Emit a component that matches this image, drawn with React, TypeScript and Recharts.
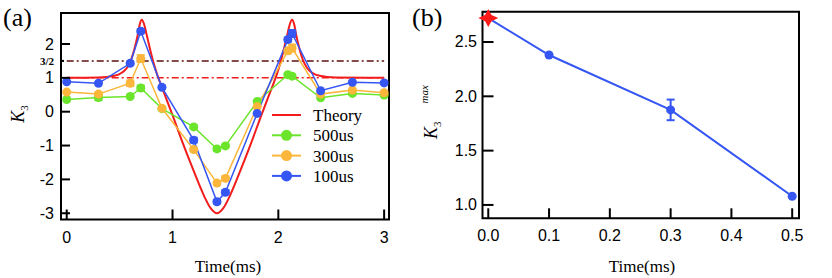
import { LineChart, Line, XAxis, YAxis, ReferenceLine, ReferenceArea, ErrorBar } from "recharts";

// ---- panel (a): K3 vs time ----
const TIME_A = [0, 0.3, 0.6, 0.7, 0.9, 1.2, 1.42, 1.5, 1.8, 2.09, 2.13, 2.4, 2.7, 3.0];
const K3_500 = [0.36, 0.42, 0.45, 0.7, 0.09, -0.45, -1.1, -1.01, 0.3, 1.09, 1.05, 0.41, 0.54, 0.49];
const ERR_500 = [0, 0.08, 0, 0.07, 0, 0.05, 0.06, 0.04, 0, 0.05, 0.05, 0, 0, 0];
const K3_300 = [0.58, 0.52, 0.84, 1.57, 0.1, -1.12, -2.11, -1.97, 0.15, 1.8, 1.88, 0.52, 0.64, 0.56];
const ERR_300 = [0, 0.05, 0.08, 0.1, 0, 0.05, 0.05, 0.06, 0, 0.08, 0.1, 0, 0, 0];
const K3_100 = [0.885, 0.84, 1.43, 2.38, 0.72, -0.84, -2.66, -2.38, -0.05, 2.13, 2.31, 0.62, 0.87, 0.85];
const ERR_100 = [0, 0, 0.04, 0.06, 0.05, 0.07, 0.05, 0.06, 0, 0.06, 0.1, 0, 0, 0];

const THEORY_T = [0, 0.3, 0.45, 0.52, 0.57, 0.61, 0.64, 0.67, 0.69, 0.71, 0.73, 0.75, 0.78, 0.82, 0.86, 0.9, 1.0, 1.1, 1.2, 1.3, 1.36, 1.42, 1.48, 1.54, 1.64, 1.74, 1.84, 1.94, 1.98, 2.02, 2.06, 2.09, 2.11, 2.13, 2.15, 2.17, 2.2, 2.23, 2.27, 2.32, 2.39, 2.54, 3.0];
const THEORY_K = [1.0, 1.01, 1.06, 1.15, 1.3, 1.55, 1.85, 2.25, 2.58, 2.72, 2.6, 2.35, 1.95, 1.45, 1.05, 0.72, -0.1, -0.95, -1.75, -2.5, -2.85, -3.0, -2.85, -2.5, -1.75, -0.95, -0.1, 0.72, 1.05, 1.45, 1.95, 2.35, 2.6, 2.72, 2.58, 2.25, 1.85, 1.55, 1.3, 1.15, 1.06, 1.01, 1.0];

const X_TICKS_A = [0, 1, 2, 3];
const Y_TICKS_A = [-3, -2, -1, 0, 1, 1.5, 2];

// ---- panel (b): K3 max vs time ----
const TIME_B = [0, 0.1, 0.3, 0.5];
const K3MAX = [2.72, 2.38, 1.875, 1.08];
const ERR_B = [0, 0, 0.095, 0];
const X_TICKS_B = [0, 0.1, 0.2, 0.3, 0.4, 0.5];
const Y_TICKS_B = [1.0, 1.5, 2.0, 2.5];

const COLORS = {
  theory: "#f21c1c",
  g: "#6be52b",
  o: "#fbb63b",
  b: "#3556f2",
  half: "#5e1010",
};

const SANS = "'Liberation Sans', Arial, sans-serif";
const SERIF = "'Liberation Serif', 'Times New Roman', serif";

const tableA = TIME_A.map((t, i) => ({
  t,
  g: K3_500[i],
  gErr: ERR_500[i],
  o: K3_300[i],
  oErr: ERR_300[i],
  b: K3_100[i],
  bErr: ERR_100[i],
}));
const theoryData = THEORY_T.map((t, i) => ({ t, k: THEORY_K[i] }));
const tableB = TIME_B.map((t, i) => ({ t, k: K3MAX[i], err: ERR_B[i] }));

const DOM_XA: [number, number] = [-0.054, 3.046];
const DOM_YA: [number, number] = [-3.185, 2.916];
const DOM_XB: [number, number] = [-0.0095, 0.5112];
const DOM_YB: [number, number] = [0.877, 2.778];

// ticks pointing into the plot, labels outside
const XTickIn = (props: any) => {
  const { x, y, payload, fmt, len } = props;
  return (
    <g>
      <line x1={x} y1={y} x2={x} y2={y - len} stroke="#000" strokeWidth={2} />
      <text x={x} y={y + 23} textAnchor="middle" fontFamily={SANS} fontSize={16} fill="#000">
        {fmt(payload.value)}
      </text>
    </g>
  );
};

const YTickIn = (props: any) => {
  const { x, y, payload, fmt, len, gap, half } = props;
  if (half && payload.value === 1.5) {
    return (
      <g>
        <line x1={x} y1={y} x2={x + 3} y2={y} stroke="#000" strokeWidth={2} />
        <text x={x - 7} y={y + 4} textAnchor="end" fontFamily={SERIF} fontWeight="bold" fontSize={11} fill="#000">
          3/2
        </text>
      </g>
    );
  }
  return (
    <g>
      <line x1={x} y1={y} x2={x + len} y2={y} stroke="#000" strokeWidth={2} />
      <text x={x - gap} y={y + 5.5} textAnchor="end" fontFamily={SANS} fontSize={16} fill="#000">
        {fmt(payload.value)}
      </text>
    </g>
  );
};

const starDot = (props: any) => {
  const { cx, cy, index } = props;
  if (index === 0) {
    const ox = 10, oy = 9, r = 3.2;
    const d = `M${cx - ox},${cy} L${cx - r},${cy - r} L${cx},${cy - oy} L${cx + r},${cy - r} L${cx + ox},${cy} L${cx + r},${cy + r} L${cx},${cy + oy} L${cx - r},${cy + r} Z`;
    return <path key="star" d={d} fill="#ff1a1a" />;
  }
  return <circle key={`d${index}`} cx={cx} cy={cy} r={4.5} fill={COLORS.b} />;
};

const LEGEND = [
  { name: "Theory", color: COLORS.theory, dot: false },
  { name: "500us", color: COLORS.g, dot: true },
  { name: "300us", color: COLORS.o, dot: true },
  { name: "100us", color: COLORS.b, dot: true },
];

export default function App() {
  return (
    <div style={{ position: "absolute", left: 0, top: 0, width: 832, height: 278, background: "#fff" }}>
      {/* panel (a) */}
      <div style={{ position: "absolute", left: 0, top: 0 }}>
        <LineChart width={420} height={278} data={tableA} margin={{ top: 13, right: 31, bottom: 57.5, left: 60 }}>
          <XAxis
            type="number"
            dataKey="t"
            domain={DOM_XA}
            ticks={X_TICKS_A}
            height={1}
            axisLine={false}
            tickLine={false}
            tickSize={0}
            tickMargin={0}
            interval={0}
            tick={(p: any) => <XTickIn {...p} len={10} fmt={(v: number) => String(v)} />}
          />
          <YAxis
            type="number"
            domain={DOM_YA}
            ticks={Y_TICKS_A}
            width={1}
            axisLine={false}
            tickLine={false}
            tickSize={0}
            tickMargin={0}
            interval={0}
            tick={(p: any) => <YTickIn {...p} half len={9} gap={7} fmt={(v: number) => String(v)} />}
          />
          <ReferenceArea x1={DOM_XA[0]} x2={DOM_XA[1]} y1={DOM_YA[0]} y2={DOM_YA[1]} fill="none" fillOpacity={0} stroke="#000" strokeWidth={2} />
          <ReferenceLine segment={[{ x: 0, y: 1.5 }, { x: 3, y: 1.5 }]} stroke={COLORS.half} strokeWidth={1.5} strokeDasharray="7 3 2 3" />
          <ReferenceLine segment={[{ x: 0, y: 1 }, { x: 3, y: 1 }]} stroke={COLORS.theory} strokeWidth={1.5} strokeDasharray="7 3 2 3" />
          <Line data={theoryData} dataKey="k" type="monotone" stroke={COLORS.theory} strokeWidth={2} dot={false} isAnimationActive={false} />
          <Line dataKey="g" stroke={COLORS.g} strokeWidth={1.5} dot={{ r: 4.5, fill: COLORS.g, stroke: "none" }} isAnimationActive={false}>
            <ErrorBar dataKey="gErr" width={4} stroke={COLORS.g} strokeWidth={2} direction="y" />
          </Line>
          <Line dataKey="o" stroke={COLORS.o} strokeWidth={1.5} dot={{ r: 4.5, fill: COLORS.o, stroke: "none" }} isAnimationActive={false}>
            <ErrorBar dataKey="oErr" width={4} stroke={COLORS.o} strokeWidth={2} direction="y" />
          </Line>
          <Line dataKey="b" stroke={COLORS.b} strokeWidth={1.5} dot={{ r: 4.5, fill: COLORS.b, stroke: "none" }} isAnimationActive={false}>
            <ErrorBar dataKey="bErr" width={4} stroke={COLORS.b} strokeWidth={2} direction="y" />
          </Line>
        </LineChart>
      </div>

      {/* panel (b) */}
      <div style={{ position: "absolute", left: 420, top: 0 }}>
        <LineChart width={412} height={278} data={tableB} margin={{ top: 11.8, right: 33, bottom: 58.7, left: 61.5 }}>
          <XAxis
            type="number"
            dataKey="t"
            domain={DOM_XB}
            ticks={X_TICKS_B}
            height={1}
            axisLine={false}
            tickLine={false}
            tickSize={0}
            tickMargin={0}
            interval={0}
            tick={(p: any) => <XTickIn {...p} len={10} fmt={(v: number) => v.toFixed(1)} />}
          />
          <YAxis
            type="number"
            domain={DOM_YB}
            ticks={Y_TICKS_B}
            width={1}
            axisLine={false}
            tickLine={false}
            tickSize={0}
            tickMargin={0}
            interval={0}
            tick={(p: any) => <YTickIn {...p} len={11} gap={5.5} fmt={(v: number) => v.toFixed(1)} />}
          />
          <ReferenceArea x1={DOM_XB[0]} x2={DOM_XB[1]} y1={DOM_YB[0]} y2={DOM_YB[1]} fill="none" fillOpacity={0} stroke="#000" strokeWidth={2} />
          <Line dataKey="k" stroke={COLORS.b} strokeWidth={2} dot={starDot} isAnimationActive={false}>
            <ErrorBar dataKey="err" width={4} stroke={COLORS.b} strokeWidth={2} direction="y" />
          </Line>
        </LineChart>
      </div>

      {/* labels and legend */}
      <svg width={832} height={278} style={{ position: "absolute", left: 0, top: 0, pointerEvents: "none" }}>
        <text x={3} y={26} fontFamily={SERIF} fontSize={26} fill="#000">(a)</text>
        <text x={412} y={26} fontFamily={SERIF} fontSize={26} fill="#000">(b)</text>
        <text x={228} y={272} textAnchor="middle" fontFamily={SERIF} fontSize={17} fill="#000">Time(ms)</text>
        <text x={642} y={272} textAnchor="middle" fontFamily={SERIF} fontSize={17} fill="#000">Time(ms)</text>
        <text transform="rotate(-90 24 114)" x={24} y={114} textAnchor="middle" fontFamily={SERIF} fontSize={18} fill="#000">
          <tspan fontStyle="italic">K</tspan>
          <tspan fontSize={11} dy={4}>3</tspan>
        </text>
        <text transform="rotate(-90 437 112)" x={437} y={112} textAnchor="middle" fontFamily={SERIF} fontSize={18} fill="#000">
          <tspan fontStyle="italic">K</tspan>
          <tspan fontSize={11} dy={4}>3</tspan>
          <tspan fontSize={11} fontStyle="italic" dx={18} dy={-13}>max</tspan>
        </text>
        {LEGEND.map((e, i) => {
          const y = 115 + i * 20.3;
          return (
            <g key={e.name}>
              <line x1={272} y1={y} x2={301} y2={y} stroke={e.color} strokeWidth={2} />
              {e.dot && <circle cx={286.5} cy={y} r={5.5} fill={e.color} />}
              <text x={313} y={y + 6} fontFamily={SERIF} fontSize={17} fill="#000">{e.name}</text>
            </g>
          );
        })}
      </svg>
    </div>
  );
}
